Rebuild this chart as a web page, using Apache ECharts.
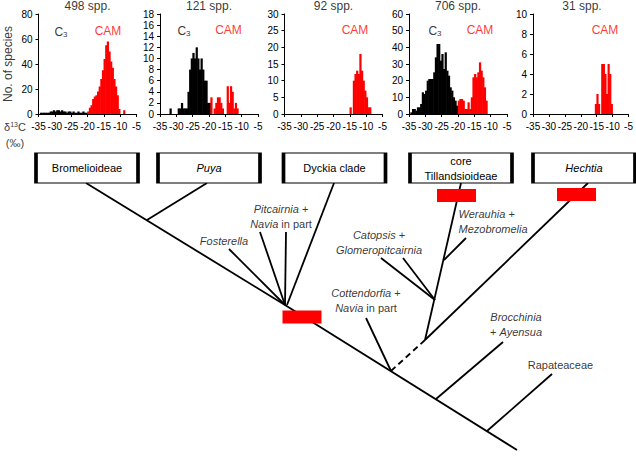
<!DOCTYPE html>
<html><head><meta charset="utf-8">
<script src="https://cdn.jsdelivr.net/npm/echarts@6/dist/echarts.min.js"></script>
<style>html,body{margin:0;padding:0;background:#fff}#c{width:636px;height:458px}</style>
</head><body><div id="c"></div>
<script>
// ---------- histogram data (counts per 0.5 ‰ bin) ----------
const panelTitles = ['498 spp.', '121 spp.', '92 spp.', '706 spp.', '31 spp.'];
const yMax = [80, 18, 30, 60, 10];
const yStep = [20, 2, 5, 10, 2];
const xMin = -35, xMax = -5, xStep = 5;
const BIN = 0.5;

const p1C3Start = -35;
const p1C3 = [0,1,1,1,1,1,1,2,2,3,2,3,3,2,3,2,2,1,2,2,1,2,1,1,2,1,1,2,1,1];
const p1CAMStart = -20;
const p1CAM = [2,5,7,12,14,15,18,22,28,35,44,55,58,50,42,37,28,22,15,4,0,0,3];

const p2C3Start = -32;
const p2C3 = [1,0,0,0,0,1,1,2,1,1,1,4,8,10,11,10,12,10,8,10,8,6,6,2,2];
const p2CAMStart = -19.5;
const p2CAM = [3,0,1,2,3,3,2,1,0,0,5,2,5,4,1,2,1];

const p3CAMStart = -15;
const p3CAM = [2,0,10,12,13,12,18,13,10,7,5,2,2];

const p4C3Start = -35;
const p4C3 = [0,1,3,3,2,4,4,6,13,12,14,20,21,21,21,25,34,42,42,32,36,27,37,26,23,16,14,10,8,5];
const p4CAMStart = -20;
const p4CAM = [8,9,9,8,3,3,7,3,10,22,24,22,25,31,26,22,16,8];

const p5CAMStart = -15.5;
const p5CAM = [1,2,1,0,5,5,4,2,5,4,1];

const c3Series = [[p1C3Start, p1C3], [p2C3Start, p2C3], null, [p4C3Start, p4C3], null];
const camSeries = [[p1CAMStart, p1CAM], [p2CAMStart, p2CAM], [p3CAMStart, p3CAM], [p4CAMStart, p4CAM], [p5CAMStart, p5CAM]];

// ---------- phylogeny (schematic layout units) ----------
const cladeNames = ['Bromelioideae', '{i|Puya}', 'Dyckia clade', 'core\nTillandsioideae', '{i|Hechtia}'];
const cladeXY = [[87,168],[209,168],[334.5,168],[461,168],[584,168]];
const camOriginXY = [[302,317],[456.5,195.5],[576.5,194.5]];
const treeEdges = [
  [86,183,285,305],[207,183,147,220],[229,249,285,305],[260,232,285,305],[286,232,285,305],
  [334,183,287,305],[285,305,517,450],[366,318,391,371],[425,340,588,183],[425,340,461,183],
  [435,300,381,258],[435,300,403,258],[444,260,466,238],[436,399,503,342],[487,431,552,374]
];
const dashedEdges = [[391,371,425,340]];
const tipNames = ['{i|Fosterella}', '{i|Pitcairnia} +\n{i|Navia} in part', '{i|Catopsis} +\n{i|Glomeropitcairnia}',
  '{i|Cottendorfia} +\n{i|Navia} in part', '{i|Brocchinia}\n+ {i|Ayensua}', 'Rapateaceae'];
const tipXY = [[224,241],[281,216.5],[379,242.5],[366,300],[516,324.5],[560.5,365]];
const werauhiaName = '{i|Werauhia} +\n{i|Mezobromelia}';
const werauhiaXY = [458,221.5];

// ---------- build ----------
const FONT = 'Liberation Sans, Arial, sans-serif';
const gridLeft = [38.5, 160, 284.5, 409, 533];
const grids = [], xAxes = [], yAxes = [], series = [];

function histItem(color) {
  return function (params, api) {
    const x0 = api.value(0), c = api.value(1);
    if (!c) return { type: 'group', children: [] };
    const a = api.coord([x0, c]);
    const b = api.coord([x0 + BIN, 0]);
    return { type: 'rect', shape: { x: a[0] - 0.3, y: a[1], width: b[0] - a[0] + 0.6, height: b[1] - a[1] },
      style: { fill: color, stroke: null } };
  };
}
function bins(s) { return s[1].map((c, k) => [s[0] + k * BIN, c]); }

for (let i = 0; i < 5; i++) {
  grids.push({ left: gridLeft[i], top: 14, width: 98, height: 100 });
  xAxes.push({ gridIndex: i, type: 'value', min: xMin, max: xMax, interval: xStep,
    axisLine: { lineStyle: { color: '#000', width: 1 } },
    axisTick: { show: true, length: 3, lineStyle: { color: '#000' } },
    splitLine: { show: false },
    axisLabel: { color: '#000', fontSize: 10, fontFamily: FONT, margin: 7, showMinLabel: true, showMaxLabel: true } });
  yAxes.push({ gridIndex: i, type: 'value', min: 0, max: yMax[i], interval: yStep[i],
    axisLine: { show: true, lineStyle: { color: '#000', width: 1 } },
    axisTick: { show: true, length: 3, lineStyle: { color: '#000' } },
    splitLine: { show: false },
    axisLabel: { color: '#000', fontSize: 10, fontFamily: FONT, margin: 6 } });
  if (c3Series[i]) series.push({ type: 'custom', xAxisIndex: i, yAxisIndex: i, silent: true,
    encode: { x: 0, y: 1 }, renderItem: histItem('#000'), data: bins(c3Series[i]) });
  series.push({ type: 'custom', xAxisIndex: i, yAxisIndex: i, silent: true,
    encode: { x: 0, y: 1 }, renderItem: histItem('#ff0000'), data: bins(camSeries[i]) });
}
// overlay grid for tree and free texts
grids.push({ left: 0, top: 0, width: 636, height: 458 });
xAxes.push({ gridIndex: 5, type: 'value', min: 0, max: 636, show: false });
yAxes.push({ gridIndex: 5, type: 'value', min: 0, max: 458, inverse: true, show: false });

function edgeItem(dashed) {
  return function (params, api) {
    const p = api.coord([api.value(0), api.value(1)]);
    const q = api.coord([api.value(2), api.value(3)]);
    return { type: 'line', shape: { x1: p[0], y1: p[1], x2: q[0], y2: q[1] },
      style: { stroke: '#000', lineWidth: 1.8, lineDash: dashed ? [6, 4] : null } };
  };
}
series.push({ type: 'custom', xAxisIndex: 5, yAxisIndex: 5, silent: true, z: 1,
  encode: { x: [0, 2], y: [1, 3] }, renderItem: edgeItem(false), data: treeEdges });
series.push({ type: 'custom', xAxisIndex: 5, yAxisIndex: 5, silent: true, z: 1,
  encode: { x: [0, 2], y: [1, 3] }, renderItem: edgeItem(true), data: dashedEdges });

const richI = { i: { fontStyle: 'italic', fontSize: 11, fontFamily: FONT, color: '#000', lineHeight: 15 } };
series.push({ type: 'scatter', xAxisIndex: 5, yAxisIndex: 5, silent: true, z: 2,
  symbol: 'rect', symbolSize: [102, 30],
  itemStyle: { color: '#fff', borderColor: '#000', borderWidth: 2, opacity: 1 },
  label: { show: true, position: 'inside', color: '#000', fontSize: 11, fontFamily: FONT, lineHeight: 15,
    formatter: p => cladeNames[p.dataIndex], rich: richI },
  data: cladeXY });
series.push({ type: 'scatter', xAxisIndex: 5, yAxisIndex: 5, silent: true, z: 3,
  symbol: 'rect', symbolSize: [39, 13], itemStyle: { color: '#ff0000', opacity: 1 }, data: camOriginXY });
series.push({ type: 'scatter', xAxisIndex: 5, yAxisIndex: 5, silent: true, z: 4,
  symbolSize: 1, itemStyle: { color: 'rgba(0,0,0,0)' },
  label: { show: true, position: 'inside', color: '#000', fontSize: 11, fontFamily: FONT, lineHeight: 15,
    align: 'center', formatter: p => tipNames[p.dataIndex], rich: richI },
  data: tipXY });
series.push({ type: 'scatter', xAxisIndex: 5, yAxisIndex: 5, silent: true, z: 4,
  symbolSize: 1, itemStyle: { color: 'rgba(0,0,0,0)' },
  label: { show: true, position: 'right', distance: 0, color: '#000', fontSize: 11, fontFamily: FONT, lineHeight: 15,
    align: 'left', formatter: werauhiaName, rich: richI },
  data: [werauhiaXY] });

// histogram annotations (texts)
const titleXY = gridLeft.map(l => [l + 49, 6]);
const c3TextXY = [[61, 32], [184, 31], null, [435, 31], null];
const camTextXY = [[108, 31], [228.5, 30], [355, 30], [480, 30], [605, 30]];
const textData = [];
for (let i = 0; i < 5; i++) {
  textData.push({ value: titleXY[i], label: { formatter: panelTitles[i], fontSize: 12, color: '#000' } });
  if (c3TextXY[i]) textData.push({ value: c3TextXY[i], label: { formatter: 'C{s|3}', fontSize: 12, color: '#000' } });
  textData.push({ value: camTextXY[i], label: { formatter: 'CAM', fontSize: 12, color: '#ff0000' } });
}
textData.push({ value: [8, 64], label: { formatter: 'No. of species', fontSize: 12, color: '#000', rotate: 90 } });
textData.push({ value: [15, 127], label: { formatter: 'δ{u|13}C', fontSize: 11, color: '#000' } });
textData.push({ value: [15, 143], label: { formatter: '(‰)', fontSize: 11, color: '#000' } });
series.push({ type: 'scatter', xAxisIndex: 5, yAxisIndex: 5, silent: true, z: 4,
  symbolSize: 1, itemStyle: { color: 'rgba(0,0,0,0)' },
  label: { show: true, position: 'inside', fontFamily: FONT,
    rich: { s: { fontSize: 8, fontFamily: FONT, color: '#000', verticalAlign: 'bottom', lineHeight: 12 },
            u: { fontSize: 7, fontFamily: FONT, color: '#000', verticalAlign: 'top', lineHeight: 12 } } },
  data: textData });

const chart = echarts.init(document.getElementById('c'), null, { renderer: 'svg' });
chart.setOption({ animation: false, backgroundColor: '#fff', grid: grids, xAxis: xAxes, yAxis: yAxes, series: series });
</script></body></html>
